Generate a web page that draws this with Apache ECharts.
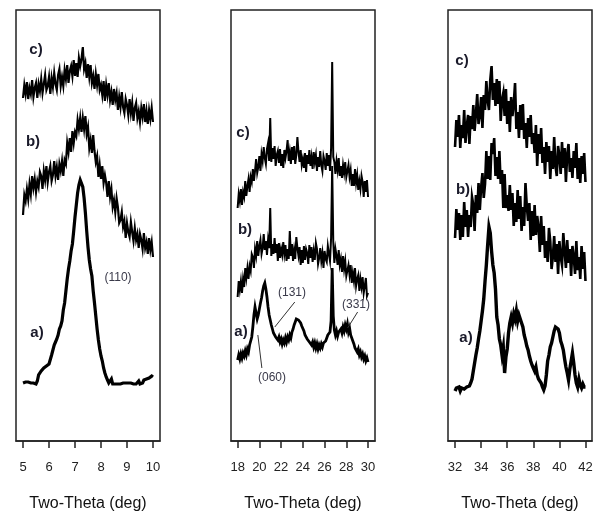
<!DOCTYPE html>
<html><head><meta charset="utf-8">
<script src="https://cdn.jsdelivr.net/npm/echarts@6/dist/echarts.min.js"></script>
<style>html,body{margin:0;padding:0;background:#fff}#c{width:595px;height:514px}</style>
</head><body><div id="c"></div>
<script>
// ---------------- DATA ----------------
// Panel 1: 2θ = 5 .. 10, step 0.05
const p1Start = 5, p1Step = 0.05;
const p1Ticks = [5, 6, 7, 8, 9, 10];
const p1C = [343,356,347,359,342,353,347,361,344,353, 358,343,357,350,362,348,357,366,351,355,
  364,347,363,354,368,357,351,366,372,355, 364,355,371,362,376,358,370,375,365,381,
  365,378,364,383,375,382,394,372,378,363, 377,364,376,358,365,352,367,356,367,351,
  356,346,360,340,356,346,358,341,349,336, 352,341,348,331,344,334,349,334,328,342,
  336,326,342,328,338,320,333,338,323,330, 319,333,324,337,319,330,317,331,322,333, 319];
const p1B = [226,246,240,252,242,257,247,265,253,262, 249,260,254,269,265,252,270,261,275,259,
  269,275,260,266,280,265,274,261,277,270, 280,265,281,277,298,289,303,289,310,298,
  309,305,321,312,323,309,323,312,325,307, 314,293,301,288,306,290,279,285,264,276,
  262,275,258,266,258,244,260,244,252,234, 241,229,243,234,218,221,229,214,220,203,
  218,209,204,219,209,200,213,201,207,193, 207,201,192,208,193,199,187,203,191,199, 184];
const p1A = [58,58,59,58,59,58,58,59,58,57, 57,60,66,64,70,69,73,72,75,75,
  77,79,86,91,96,99,102,106,112,115, 120,131,138,150,162,172,180,190,197,210,
  224,236,248,256,261,259,254,243,228,210, 194,181,172,165,150,138,125,112,101,92,
  85,80,73,68,64,61,58,58,62,57, 58,57,58,57,58,57,58,58,57,58,
  57,58,57,58,59,57,58,57,58,60, 57,59,58,61,59,62,60,63,62,65, 64];

// Panel 2: 2θ = 18 .. 30, step 0.1
const p2Start = 18, p2Step = 0.1;
const p2Ticks = [18, 20, 22, 24, 26, 28, 30];
const p2C = [233,247,240,252,236,249,244,260,245,255, 262,249,264,259,272,260,270,282,268,274,
  285,270,287,280,294,283,277,292,298,280, 323,279,293,282,295,275,286,290,278,292,
  275,287,273,291,283,290,301,280,289,277, 294,281,295,277,286,304,289,279,291,276,
  282,273,288,269,286,277,291,275,284,272, 289,279,286,270,284,274,290,276,270,285,
  280,271,288,275,286,270,293,379,284,279, 267,280,271,283,265,275,263,276,268,279,
  264,263,276,264,271,255,267,255,272,258, 266,251,260,252,265,259,244,260,249,261, 244];
const p2B = [144,160,151,160,148,162,154,173,163,173, 162,175,170,187,184,173,192,185,200,185,
  195,201,187,193,207,191,200,186,201,193, 233,185,197,187,203,188,197,180,198,183,
  192,186,199,187,196,180,192,182,210,185, 197,180,191,182,204,193,185,194,176,191,
  178,195,181,192,188,177,196,183,194,179, 190,181,198,192,177,183,193,180,188,173,
  190,182,179,195,187,180,203,275,199,178, 192,185,176,191,176,182,169,185,172,180,
  165,164,176,166,176,158,168,160,173,155, 162,166,150,162,154,164,148,155,163,145, 148];
const p2A = [81,86,82,87,83,88,85,90,86,92, 89,96,94,104,114,126,134,128,122,126,
  132,138,143,150,155,158,152,144,134,126, 121,116,112,108,110,104,106,101,104,99,
  102,97,101,98,103,99,104,101,106,103, 109,112,116,119,122,124,121,123,118,115,
  113,110,106,108,102,104,99,101,96,99, 94,98,93,97,92,96,93,97,94,98,
  96,100,103,106,104,109,120,173,125,111, 106,110,105,109,107,112,108,114,110,116,
  112,117,109,113,106,104,100,97,93,91, 89,92,86,89,84,87,82,85,80,83, 79];

// Panel 3: 2θ = 32 .. 42, step 0.1
const p3Start = 32, p3Step = 0.1;
const p3Ticks = [32, 34, 36, 38, 40, 42];
const p3C = [294,321,304,326,293,316,303,331,298,315, 326,297,325,312,336,310,327,347,317,326,
  344,313,346,331,360,341,331,361,375,341, 358,335,362,337,360,320,341,348,325,352,
  317,340,309,344,325,337,358,312,329,303, 336,311,337,302,318,293,323,304,326,297,
  308,288,316,275,307,287,313,278,294,267, 299,279,295,262,290,272,304,275,265,295,
  285,267,299,273,293,259,287,297,269,283, 263,290,273,298,262,283,258,285,267,288, 259];
const p3B = [203,232,211,228,201,226,204,239,214,231, 204,226,214,244,236,210,246,228,258,231,
  254,268,243,257,290,262,285,261,298,287, 303,265,284,262,290,257,271,233,267,233,
  246,230,256,231,248,215,238,219,251,222, 245,210,234,215,258,235,220,238,201,230,
  205,236,206,225,214,189,225,196,215,183, 200,179,213,200,172,184,205,179,197,167,
  200,184,176,208,190,173,201,178,192,165, 195,184,167,200,171,184,162,195,172,189, 160];
const p3A = [50,53,51,54,50,53,51,52,50,54, 52,55,58,62,70,78,86,93,102,110,
  120,130,142,160,176,196,214,208,190,176, 168,152,124,116,102,96,86,94,68,84,
  92,108,118,124,118,127,122,130,120,126, 124,118,114,106,101,95,91,85,80,76,
  73,70,74,66,62,64,58,54,51,55, 66,80,86,94,98,104,110,114,116,112,
  108,100,96,91,82,74,68,61,72,80, 88,78,66,58,54,62,56,53,57,54, 54];

// Reflection annotations (panel 2): pointer from label to peak, in data coords [2θ, intensity]
const p2Pointers = [
  [[23.26, 139], [21.42, 114]],  // (131)
  [[29.04, 129], [28.12, 113]],  // (331)
  [[20.23, 73],  [19.86, 106]]   // (060)
];
const axisTitle = 'Two-Theta (deg)';

// ---------------- CHART ----------------
function pairs(x0, step, ys) {
  return ys.map((y, i) => [Number((x0 + i * step).toFixed(3)), y]);
}
const FONT = '"Liberation Sans", Arial, sans-serif';
const grids = [
  {left: 16, top: 10, width: 144, height: 431},
  {left: 231, top: 10, width: 144, height: 431},
  {left: 448, top: 10, width: 144, height: 431}
];
const xRanges = [[4.73, 10.27], [17.39, 30.64], [31.46, 42.5]];
const tickSets = [p1Ticks, p2Ticks, p3Ticks];

const chart = echarts.init(document.getElementById('c'), null, {renderer: 'canvas'});
const xAxes = grids.map((g, i) => ({
  type: 'value', gridIndex: i, min: xRanges[i][0], max: xRanges[i][1],
  name: axisTitle, nameLocation: 'middle', nameGap: 55,
  nameTextStyle: {fontFamily: FONT, fontSize: 16, color: '#111'},
  axisLine: {show: true, lineStyle: {color: '#222', width: 1.5}},
  axisTick: {show: true, inside: false, length: 7, customValues: tickSets[i], lineStyle: {color: '#222', width: 1.5}},
  axisLabel: {show: true, margin: 20, customValues: tickSets[i], fontFamily: FONT, fontSize: 13, color: '#222'},
  splitLine: {show: false}
}));
const yAxes = grids.map((g, i) => ({type: 'value', gridIndex: i, min: 0, max: 431, show: false}));

function lineSeries(i, data, w) {
  return {type: 'line', xAxisIndex: i, yAxisIndex: i, data: data, symbol: 'none',
    showSymbol: false, sampling: null, animation: false, silent: true,
    lineStyle: {color: '#000', width: w, join: 'miter'}, z: 3};
}
const series = [
  lineSeries(0, pairs(p1Start, p1Step, p1C), 2.2),
  lineSeries(0, pairs(p1Start, p1Step, p1B), 2.2),
  lineSeries(0, pairs(p1Start, p1Step, p1A), 3.2),
  lineSeries(1, pairs(p2Start, p2Step, p2C), 2.0),
  lineSeries(1, pairs(p2Start, p2Step, p2B), 2.0),
  Object.assign(lineSeries(1, pairs(p2Start, p2Step, p2A), 2.8), {
    markLine: {silent: true, symbol: 'none', animation: false, label: {show: false},
      lineStyle: {color: '#333', width: 1, type: 'solid'},
      data: p2Pointers.map(p => [{coord: p[0]}, {coord: p[1]}])}
  }),
  lineSeries(2, pairs(p3Start, p3Step, p3C), 2.6),
  lineSeries(2, pairs(p3Start, p3Step, p3B), 2.6),
  lineSeries(2, pairs(p3Start, p3Step, p3A), 3.4)
];

function txt(x, y, s, bold, size, color) {
  return {type: 'text', x: x, y: y, z: 10, style: {text: s, x: 0, y: 0,
    font: (bold ? 'bold ' : '') + size + 'px ' + FONT, fill: color,
    textAlign: 'center', textVerticalAlign: 'middle'}};
}
const LC = '#1a1a2a', AC = '#3a3a4a';
const graphics = [
  txt(36, 50, 'c)', true, 15, LC), txt(33, 142, 'b)', true, 15, LC), txt(37, 333, 'a)', true, 15, LC),
  txt(243, 133, 'c)', true, 15, LC), txt(245, 230, 'b)', true, 15, LC), txt(241, 332, 'a)', true, 15, LC),
  txt(462, 61, 'c)', true, 15, LC), txt(463, 190, 'b)', true, 15, LC), txt(466, 338, 'a)', true, 15, LC),
  txt(118, 278, '(110)', false, 12, AC),
  txt(292, 293, '(131)', false, 12, AC),
  txt(356, 305, '(331)', false, 12, AC),
  txt(272, 378, '(060)', false, 12, AC)
];

chart.setOption({
  animation: false,
  backgroundColor: '#fff',
  grid: grids.map(g => Object.assign({show: true, borderColor: '#222', borderWidth: 1.5,
    backgroundColor: 'transparent', containLabel: false, outerBoundsMode: 'none'}, g)),
  xAxis: xAxes,
  yAxis: yAxes,
  series: series,
  graphic: graphics
});
</script>
</body></html>
